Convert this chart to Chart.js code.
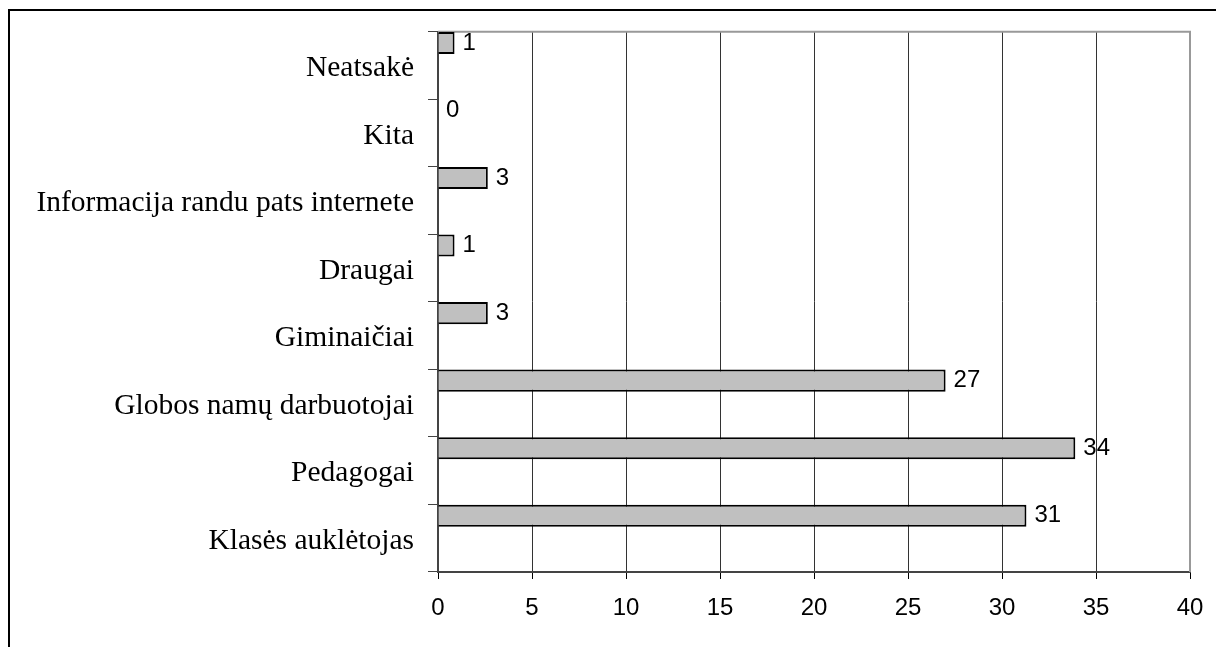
<!DOCTYPE html>
<html>
<head>
<meta charset="utf-8">
<script src="https://cdn.jsdelivr.net/npm/chart.js@4"></script>
<style>
  html, body { margin: 0; padding: 0; background: #fff; overflow: hidden; }
  #box { position: absolute; left: 8px; top: 9px; width: 1230px; height: 680px; border: 2px solid #000; }
  #chart { position: absolute; left: 0; top: 0; }
</style>
</head>
<body>
<div id="box"></div>
<canvas id="chart" width="1216" height="647"></canvas>
<script>
/* categories, top to bottom */
const labels = [
  "Neatsakė",
  "Kita",
  "Informacija randu pats internete",
  "Draugai",
  "Giminaičiai",
  "Globos namų darbuotojai",
  "Pedagogai",
  "Klasės auklėtojas"
];
const values = [0.88, 0, 2.65, 0.88, 2.65, 27, 33.9, 31.3]; // bar lengths
const valueLabels = ["1", "0", "3", "1", "3", "27", "34", "31"]; // numbers printed at bar ends
const xTicks = [0, 5, 10, 15, 20, 25, 30, 35, 40];

// writes the numbers next to every bar
const barNumbers = {
  id: "barNumbers",
  afterDatasetsDraw(chart) {
    const ctx = chart.ctx;
    const meta = chart.getDatasetMeta(0);
    ctx.save();
    ctx.fillStyle = "#000";
    ctx.font = "24px 'Liberation Sans', Arial, sans-serif";
    ctx.textAlign = "left";
    ctx.textBaseline = "middle";
    meta.data.forEach(function (bar, i) {
      ctx.fillText(valueLabels[i], bar.x + 8, bar.y);
    });
    ctx.restore();
  }
};

// grey line on top of plot area
const plotFrame = {
  id: "plotFrame",
  beforeDatasetsDraw(chart) {
    const a = chart.chartArea;
    const ctx = chart.ctx;
    ctx.save();
    ctx.strokeStyle = "#999";
    ctx.lineWidth = 2;
    ctx.beginPath();
    ctx.moveTo(a.left, a.top);
    ctx.lineTo(a.right, a.top);
    ctx.lineTo(a.right, a.bottom);
    ctx.stroke();
    ctx.restore();
  }
};

const data = {
  labels: labels,
  datasets: [
    {
      data: values,
      backgroundColor: "#c0c0c0",
      borderColor: "#000",
      borderWidth: 2,
      barPercentage: 0.98,
      categoryPercentage: 1
    },
    // empty sets so the bar sits in the upper part of each row
    { data: [], barPercentage: 0.98, categoryPercentage: 1 },
    { data: [], barPercentage: 0.98, categoryPercentage: 1 }
  ]
};

const config = {
  type: "bar",
  data: data,
  options: {
    indexAxis: "y",
    responsive: false,
    animation: false,
    layout: { padding: { top: 31, right: 0, bottom: 0, left: 0 } },
    plugins: {
      legend: { display: false },
      tooltip: { enabled: false }
    },
    scales: {
      x: {
        min: 0,
        max: 40,
        afterBuildTicks(scale) {
          scale.ticks = xTicks.map(v => ({ value: v }));
        },
        afterFit(scale) {
          scale.height = 75;
          scale.paddingRight = 26;
        },
        grid: { color: "#333", lineWidth: 1, tickLength: 7, tickColor: "#000" },
        border: { display: true, color: "#444", width: 2 },
        ticks: {
          color: "#000",
          padding: 15,
          font: { family: "'Liberation Sans', Arial, sans-serif", size: 24 }
        }
      },
      y: {
        offset: true,
        afterFit(scale) { scale.width = 438; },
        grid: { offset: true, drawOnChartArea: false, tickLength: 10, tickColor: "#444" },
        border: { display: true, color: "#444", width: 2 },
        ticks: {
          color: "#000",
          padding: 14,
          labelOffset: 3,
          autoSkip: false,
          font: { family: "'Liberation Serif', 'Times New Roman', serif", size: 29.5 }
        }
      }
    }
  },
  plugins: [plotFrame, barNumbers]
};

let myChart = new Chart(document.getElementById("chart"), config);
</script>
</body>
</html>
